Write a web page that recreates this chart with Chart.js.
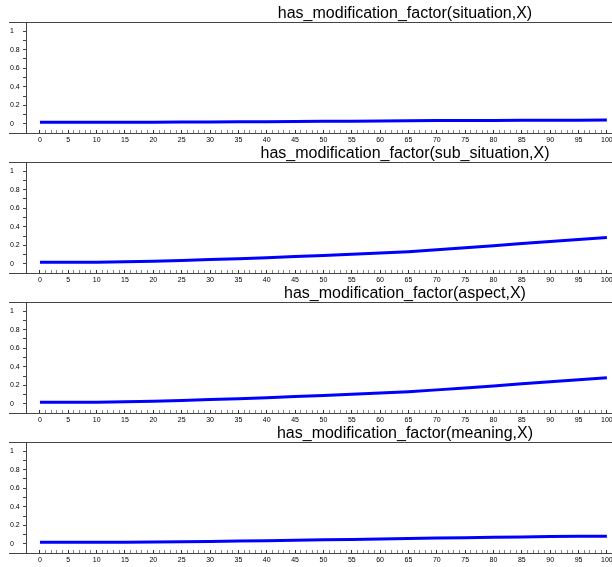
<!DOCTYPE html>
<html><head><meta charset="utf-8">
<script src="https://cdn.jsdelivr.net/npm/chart.js@4.4.0/dist/chart.umd.min.js"></script>
<style>
html,body{margin:0;padding:0;background:#fff;overflow:hidden;}
#wrap{position:relative;width:612px;height:567px;overflow:hidden;background:#fff;}
#wrap canvas{position:absolute;left:0;}
</style></head><body>
<div id="wrap">
<canvas id="c0" width="800" height="146" style="top:0px"></canvas>
<canvas id="c1" width="800" height="146" style="top:140px"></canvas>
<canvas id="c2" width="800" height="146" style="top:280px"></canvas>
<canvas id="c3" width="800" height="146" style="top:420px"></canvas>
</div>
<script>
// ---- data ----
const xValues      = [0, 5, 10, 15, 20, 25, 30, 35, 40, 45, 50, 55, 60, 65, 70, 75, 80, 85, 90, 95, 100];
const situation    = [0.015,0.015,0.015,0.016,0.017,0.018,0.019,0.021,0.022,0.024,0.026,0.028,0.030,0.032,0.034,0.035,0.036,0.037,0.038,0.039,0.040];
const subSituation = [0.015,0.015,0.016,0.021,0.028,0.036,0.045,0.055,0.066,0.078,0.090,0.102,0.115,0.131,0.152,0.173,0.195,0.218,0.240,0.263,0.285];
const aspect       = [0.015,0.015,0.016,0.021,0.028,0.036,0.045,0.055,0.066,0.078,0.090,0.102,0.115,0.130,0.150,0.171,0.193,0.215,0.237,0.259,0.281];
const meaning      = [0.015,0.015,0.016,0.017,0.019,0.021,0.025,0.029,0.033,0.037,0.042,0.047,0.052,0.057,0.062,0.066,0.070,0.074,0.078,0.080,0.082];
const titles = [
  'has_modification_factor(situation,X)',
  'has_modification_factor(sub_situation,X)',
  'has_modification_factor(aspect,X)',
  'has_modification_factor(meaning,X)'
];
const seriesList = [situation, subSituation, aspect, meaning];
const yTickLabels = ['0', '0.2', '0.4', '0.6', '0.8', '1'];
const xLabelStep = 5;

Chart.defaults.font.family = "'Liberation Sans', Arial, sans-serif";

const framePlugin = {
  id: 'frame',
  afterDraw(chart) {
    const {ctx, scales: {y}} = chart;
    const left = y.left - 1;
    ctx.save();
    ctx.strokeStyle = '#444';
    ctx.lineWidth = 1;
    ctx.beginPath();
    [y.getPixelForValue(y.max), y.getPixelForValue(y.min)].forEach(py => {
      const yy = Math.round(py) + 0.5;
      ctx.moveTo(left, yy);
      ctx.lineTo(chart.width, yy);
    });
    ctx.stroke();
    ctx.restore();
  }
};

seriesList.forEach((series, i) => {
  new Chart(document.getElementById('c' + i), {
    type: 'line',
    data: {
      datasets: [{
        data: xValues.map((x, k) => ({x: x, y: series[k]})),
        borderColor: '#0000ff',
        borderWidth: 3,
        pointRadius: 0,
        tension: 0,
        fill: false
      }]
    },
    options: {
      responsive: false,
      animation: false,
      devicePixelRatio: 1,
      layout: {padding: {left: 10, right: 0, top: 0, bottom: 0}, autoPadding: false},
      plugins: {
        legend: {display: false},
        tooltip: {enabled: false},
        title: {
          display: true,
          text: titles[i],
          color: '#000',
          font: {size: 16, weight: 'normal', lineHeight: 1},
          padding: {top: 6, bottom: 0}
        }
      },
      scales: {
        x: {
          type: 'linear',
          min: -2.46,
          max: 133.7,
          afterFit: s => { s.height = 13; },
          border: {display: false},
          grid: {
            drawOnChartArea: false,
            tickLength: -3,
            tickColor: c => (c.tick && c.tick.value >= 0) ? (c.tick.value % xLabelStep === 0 ? '#333' : '#888') : 'rgba(0,0,0,0)'
          },
          ticks: {
            stepSize: 1,
            autoSkip: false,
            maxRotation: 0,
            includeBounds: false,
            padding: 6,
            color: '#000',
            font: {size: 7},
            callback: v => (v >= 0 && v % xLabelStep === 0) ? String(v) : ''
          }
        },
        y: {
          min: -0.1,
          max: 1.1,
          afterFit: s => { s.width = 16; },
          border: {display: true, color: '#444', width: 1},
          grid: {drawOnChartArea: false, tickLength: 3, tickColor: '#444'},
          ticks: {
            stepSize: 0.1,
            autoSkip: false,
            crossAlign: 'far',
            padding: 0,
            color: '#000',
            font: {size: 7},
            callback: v => {
              const k = Math.round(v * 10);
              return (k >= 0 && k <= 10 && k % 2 === 0) ? yTickLabels[k / 2] : '';
            }
          }
        }
      }
    },
    plugins: [framePlugin]
  });
});
</script>
</body></html>
